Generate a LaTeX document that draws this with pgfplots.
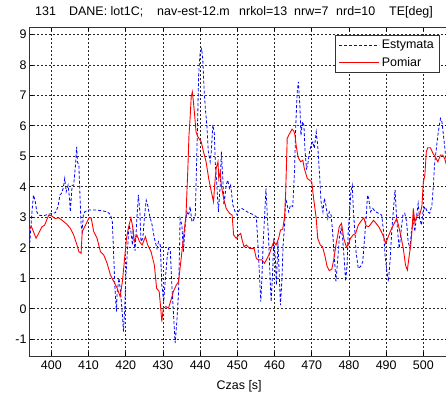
\documentclass[border=0pt]{standalone}
\usepackage{pgfplots}
\pgfplotsset{compat=1.18}
\usepackage{fontspec}
\setmainfont{Liberation Sans}
\begin{document}
\begin{tikzpicture}
\begin{axis}[
  at={(29bp,39bp)}, anchor=south west,
  scale only axis, width=420.4bp, height=329bp,
  xmin=394, xmax=507, ymin=-1.55, ymax=9.24,
  xtick={400,410,...,500}, ytick={-1,0,...,9},
  /pgf/number format/assume math mode=true,
  tick label style={font=\fontsize{12.5}{14}\selectfont},
  xticklabel style={yshift=-1bp},
  yticklabel style={xshift=1bp},
  tick align=inside, major tick length=4bp,
  tick style={black, line width=0.6bp},
  axis line style={black!80, line width=0.8bp},
  grid=major,
  major grid style={black!85, dash pattern=on 2bp off 2bp, line width=0.6bp},
  xlabel={Czas [s]},
  xlabel style={font=\fontsize{12.5}{14}\selectfont, yshift=-4bp},
  legend style={at={(axis description cs:0.978,0.977)}, anchor=north east,
    draw=black!80, line width=0.8bp, font=\fontsize{12.5}{14}\selectfont,
    inner xsep=4bp, inner ysep=3bp, row sep=3bp},
  legend cell align=left,
]
\addplot[draw=blue, line width=0.8bp, dash pattern=on 3bp off 2bp,
  legend image code/.code={\draw[blue, line width=0.8bp, dash pattern=on 3bp off 2bp] (0bp,0bp) -- (40bp,0bp);}] coordinates {
(393.9,1.65)(394.3,2.31)(394.8,3.18)(395.2,3.73)(395.7,3.51)(396.1,3.18)(396.6,3.07)
(397.9,3.05)(399.3,3.10)(401.1,3.15)(401.8,3.35)(402.3,3.73)(402.7,3.78)(403.2,3.95)
(403.6,4.27)(404.0,3.84)(404.5,4.05)(404.9,3.62)(405.1,3.18)(405.6,4.05)(406.0,4.05)
(406.5,4.71)(406.8,5.31)(407.0,4.82)(407.4,4.71)(407.7,3.73)(408.0,2.74)(408.3,2.53)
(408.6,3.07)(409.0,3.18)(409.9,3.24)(411.9,3.24)(413.7,3.21)(415.0,3.18)(415.9,3.09)
(416.4,2.85)(416.8,1.65)(417.1,0.67)(417.5,-0.09)(417.7,0.56)(418.2,1.00)(418.6,0.56)
(419.1,-0.20)(419.4,-0.75)(419.7,-0.09)(420.0,1.00)(420.5,1.98)(420.9,2.74)(421.4,2.53)
(421.8,2.09)(422.0,2.6)(422.5,1.9)(423.0,2.96)(423.4,3.73)(423.8,3.18)(424.1,2.20)
(424.6,2.31)(425.0,2.96)(425.5,3.56)(425.9,3.40)(426.4,3.07)(427.1,2.74)(427.7,2.31)
(428.4,1.98)(428.8,2.20)(429.3,2.09)(429.7,0.78)(430.2,0.23)(430.6,0.89)(431.1,1.65)
(431.5,1.98)(432.0,1.87)(432.4,0.78)(432.9,-0.31)(433.3,-1.13)(433.8,-0.31)(434.2,0.56)
(434.5,2.20)(434.6,2.96)(435.1,2.74)(435.5,1.87)(436.0,2.74)(436.4,3.18)(436.9,3.07)
(437.3,3.35)(437.8,2.85)(438.2,2.90)(438.7,3.07)(438.9,4.05)(439.3,6.02)(439.6,7.66)
(440.0,8.42)(440.4,8.53)(440.7,8.20)(441.1,7.11)(441.4,6.57)(441.8,6.02)(442.2,5.15)
(442.7,4.82)(443.0,5.15)(443.4,6.02)(443.8,5.80)(444.1,4.71)(444.5,4.05)(444.9,3.18)
(445.4,4.05)(445.7,5.15)(446.1,4.27)(446.4,3.40)(447.0,4.05)(447.4,4.22)(447.9,3.95)
(448.2,4.05)(448.8,3.40)(449.4,3.18)(450.0,3.07)(450.5,3.24)(451.2,3.29)(452.9,3.16)
(454.2,3.09)(455.1,3.02)(455.5,2.20)(456.0,1.00)(456.3,0.23)(456.6,1.00)(457.0,2.31)
(457.3,2.96)(457.7,3.95)(458.0,3.18)(458.4,2.31)(458.8,1.00)(459.1,0.23)(459.5,1.22)
(459.8,2.31)(460.2,1.65)(460.5,0.78)(460.9,2.20)(461.3,1.00)(461.6,0.12)(462.0,1.00)
(462.3,2.09)(462.7,2.74)(463.0,3.62)(463.4,3.40)(463.8,3.18)(464.3,3.40)(464.9,3.35)
(465.4,4.60)(465.7,6.02)(466.1,7.11)(466.4,7.44)(466.8,6.68)(467.1,5.69)(467.5,6.13)
(467.9,6.02)(468.2,5.15)(468.6,4.60)(468.9,4.71)(469.4,5.15)(469.8,5.36)(470.3,5.47)
(470.7,5.26)(471.2,5.80)(471.6,5.36)(472.1,4.38)(472.5,3.51)(473.0,3.18)(473.4,3.62)
(473.8,3.40)(474.3,2.96)(474.7,3.18)(475.2,3.07)(475.6,2.53)(476.1,1.65)(476.5,0.90)
(477.0,1.65)(477.4,2.31)(477.9,2.64)(478.3,2.31)(478.8,1.50)(479.1,0.90)(479.5,1.43)
(479.8,2.53)(480.2,3.18)(480.5,3.84)(480.9,4.05)(481.2,3.18)(481.6,2.53)(481.9,1.87)
(482.5,1.32)(483.1,1.38)(483.7,1.54)(484.2,2.31)(484.6,2.96)(485.0,3.73)(485.3,3.62)
(485.8,3.18)(486.4,3.29)(487.1,3.18)(488.0,3.13)(488.8,3.07)(489.3,2.53)(489.7,1.76)
(490.2,1.22)(490.6,0.89)(491.1,1.65)(491.5,2.53)(491.9,3.18)(492.4,3.90)(492.7,3.18)
(493.1,2.53)(493.5,1.98)(494.0,2.53)(494.5,3.07)(495.0,3.13)(495.5,2.85)(495.9,2.20)
(496.4,1.98)(496.8,2.53)(497.3,2.96)(497.7,2.53)(498.1,2.96)(498.6,3.45)(499.0,2.96)
(499.5,2.74)(499.9,3.18)(500.4,3.35)(501.1,3.18)(501.7,3.13)(502.3,3.40)(502.7,4.05)
(503.0,4.71)(503.5,5.26)(503.9,5.69)(504.3,6.02)(504.6,6.24)(505.0,6.13)(505.3,5.80)
(505.7,5.36)(506.2,4.71)
};
\addlegendentry{Estymata}
\addplot[draw=red, line width=0.9bp,
  legend image code/.code={\draw[red, line width=0.9bp] (0bp,0bp) -- (40bp,0bp);}] coordinates {
(393.9,2.53)(394.6,2.71)(395.9,2.31)(397.5,2.69)(398.2,2.74)(399.3,3.07)(400.0,3.05)
(401.0,2.96)(402.0,2.98)(402.9,2.90)(404.2,2.77)(405.1,2.64)(406.0,2.42)(406.9,2.09)
(407.4,1.87)(408.0,1.82)(408.3,2.53)(409.2,2.74)(410.1,2.98)(410.7,2.98)(411.4,2.53)
(412.3,2.31)(413.2,1.87)(414.1,1.76)(415.0,1.49)(415.9,1.10)(416.8,0.89)(417.7,0.67)
(418.5,0.40)(419.1,0.89)(419.7,1.65)(420.2,2.31)(420.7,2.64)(421.4,2.98)(421.8,2.74)
(422.3,2.20)(423.0,2.42)(423.7,2.20)(424.4,2.09)(425.3,2.36)(425.9,2.09)(426.8,1.87)
(427.7,1.43)(428.3,0.67)(429.0,0.56)(429.4,0.02)(429.7,-0.42)(430.1,0.02)(430.8,0.07)
(431.5,0.02)(432.1,0.26)(432.8,0.56)(433.6,0.78)(434.2,0.89)(434.9,1.65)(435.5,2.31)
(436.2,3.07)(436.7,4.60)(437.0,5.69)(437.3,6.24)(437.6,6.95)(437.9,7.11)(438.2,6.78)
(438.6,6.24)(438.9,5.80)(439.4,5.64)(440.3,5.47)(440.9,5.15)(441.6,4.82)(442.3,4.27)
(443.0,3.84)(443.6,3.51)(443.9,4.05)(444.3,4.60)(444.8,4.82)(445.0,4.27)(445.4,4.49)
(445.7,4.05)(446.3,3.62)(447.0,3.29)(447.9,3.13)(448.6,3.07)(449.0,2.42)(449.7,2.31)
(450.4,2.42)(450.9,2.47)(451.3,2.25)(451.8,2.03)(452.4,2.09)(453.3,1.98)(454.5,1.98)
(455.1,1.65)(455.7,1.60)(456.6,1.60)(457.3,1.49)(458.0,1.65)(458.7,1.82)(459.1,1.98)
(459.8,2.20)(460.4,2.09)(461.1,2.31)(461.6,2.58)(462.2,2.61)(462.7,3.02)(463.0,3.84)
(463.2,4.71)(463.4,5.58)(463.8,5.69)(464.3,5.80)(464.7,5.89)(465.2,5.82)(465.5,5.69)
(465.8,5.36)(466.3,4.98)(467.0,4.82)(467.6,4.87)(468.0,4.60)(468.8,4.27)(469.4,4.22)
(470.0,4.16)(470.5,3.62)(471.2,2.96)(471.6,2.31)(472.3,2.09)(472.9,2.03)(473.6,1.70)
(474.1,1.40)(474.7,1.25)(475.4,1.30)(475.9,1.60)(476.5,2.09)(477.0,2.42)(477.4,2.69)
(478.0,2.80)(478.6,2.31)(479.3,2.03)(479.8,2.09)(480.4,2.31)(481.1,2.42)(481.8,2.47)
(482.5,2.74)(483.4,2.90)(484.0,2.98)(484.6,2.72)(485.3,2.69)(486.0,2.80)(486.6,2.90)
(487.3,2.80)(488.0,2.69)(488.7,2.53)(489.3,2.36)(489.9,2.14)(490.4,2.31)(491.1,2.53)
(491.7,2.69)(492.4,2.85)(492.8,2.96)(493.3,2.74)(494.0,2.36)(494.6,1.98)(495.2,1.43)
(495.7,1.27)(496.1,1.65)(496.6,2.09)(497.0,2.64)(497.3,3.29)(497.7,2.85)(498.4,3.07)
(499.0,3.07)(499.6,3.35)(500.0,4.16)(500.4,4.38)(500.8,5.15)(501.2,5.28)(501.9,5.28)
(502.6,5.09)(503.2,4.98)(503.9,4.82)(504.6,5.04)(505.2,5.04)(505.7,4.93)(506.4,4.65)
};
\addlegendentry{Pomiar}
\end{axis}
\begin{scope}[every node/.style={anchor=base west, inner sep=0pt, font=\fontsize{12.5}{14}\selectfont}]
\node at (35bp,379bp) {131};
\node at (69bp,379bp) {DANE: lot1C;};
\node at (157bp,379bp) {nav-est-12.m};
\node at (239bp,379bp) {nrkol=13};
\node at (294bp,379bp) {nrw=7};
\node at (336bp,379bp) {nrd=10};
\node at (389bp,379bp) {TE[deg]};
\end{scope}
\pgfresetboundingbox
\useasboundingbox (0,0) rectangle (446bp,395bp);
\end{tikzpicture}
\end{document}
